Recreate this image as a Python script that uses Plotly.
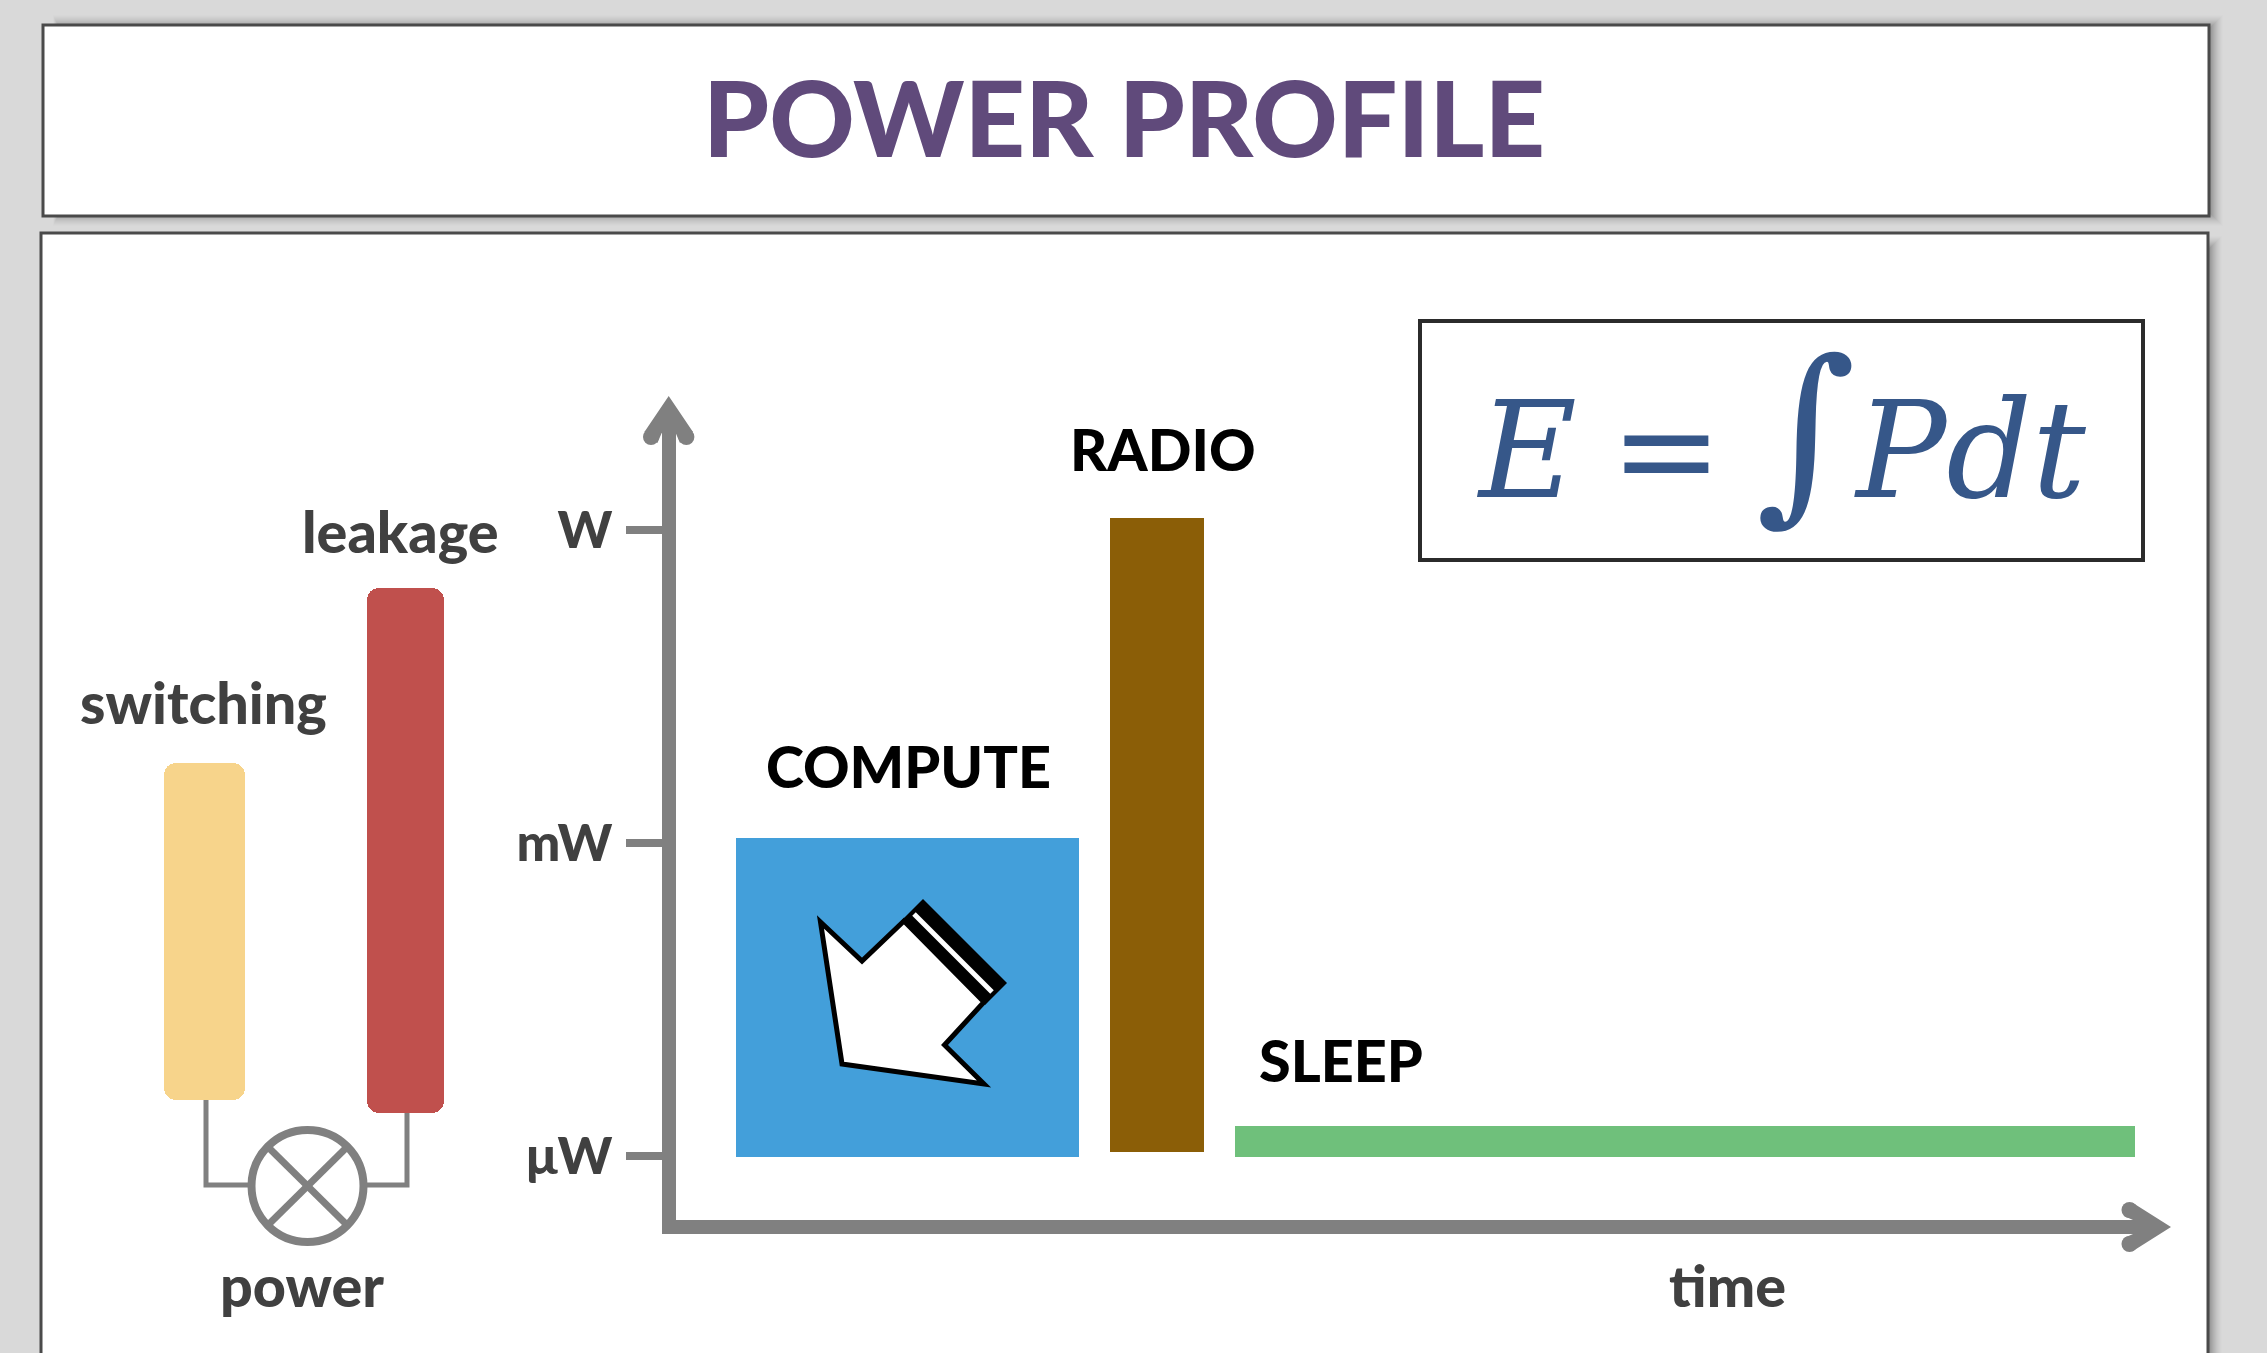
import plotly.graph_objects as go

W, H = 2267, 1353

# ---- data ----
phase_names = ["COMPUTE", "RADIO", "SLEEP"]
phase_start = [4.01, 29.03, 37.39]          # time, % of the axis
phase_end = [26.96, 35.32, 97.59]
phase_low = [-6.01, -5.96, -6.01]           # log10(power / W)
phase_high = [-2.95, 0.115, -5.71]
phase_colors = ["#439fda", "#8b5e07", "#6fc07b"]

source_names = ["switching", "leakage"]
source_low = [-5.46, -5.59]
source_high = [-2.23, -0.556]
source_colors = ["#f7d48b", "#c0504d"]

tick_values = [-6, -3, 0]
tick_labels = ["μW", "mW", "W"]

GREY = "#808080"
LABEL = "#404040"
FONT = "Lato"


def px(x):
    return x / W


def py(y):
    return 1 - y / H


def path(points, close=True):
    s = "M " + " L ".join(f"{px(x):.5f},{py(y):.5f}" for x, y in points)
    return s + (" Z" if close else "")


fig = go.Figure()

# main chart bars
fig.add_trace(go.Bar(
    x=[(a + b) / 2 for a, b in zip(phase_start, phase_end)],
    width=[b - a for a, b in zip(phase_start, phase_end)],
    base=phase_low,
    y=[h - l for h, l in zip(phase_high, phase_low)],
    marker=dict(color=phase_colors, line=dict(width=0)),
    name="phases", hoverinfo="skip", showlegend=False,
))

# rounded schematic bars on the same power axis
fig.add_trace(go.Bar(
    x=source_names, base=source_low,
    y=[h - l for h, l in zip(source_high, source_low)],
    width=[0.40, 0.385], xaxis="x2", yaxis="y",
    marker=dict(color=source_colors, line=dict(width=0), cornerradius=12),
    hoverinfo="skip", showlegend=False,
))

shapes = []


def rect(x0, y0, x1, y1, fill=None, line=None, lw=0, opacity=1, layer="below"):
    shapes.append(dict(type="rect", xref="paper", yref="paper",
                       x0=px(x0), x1=px(x1), y0=py(y0), y1=py(y1),
                       fillcolor=fill or "rgba(0,0,0,0)",
                       line=dict(color=line or "rgba(0,0,0,0)", width=lw),
                       opacity=opacity, layer=layer))


def poly(points, fill=None, line=None, lw=0, close=True, layer="above"):
    shapes.append(dict(type="path", xref="paper", yref="paper",
                       path=path(points, close),
                       fillcolor=fill or "rgba(0,0,0,0)",
                       line=dict(color=line or "rgba(0,0,0,0)", width=lw),
                       layer=layer))


def circle(cx, cy, r, fill=None, line=None, lw=0, layer="above"):
    shapes.append(dict(type="circle", xref="paper", yref="paper",
                       x0=px(cx - r), x1=px(cx + r), y0=py(cy - r), y1=py(cy + r),
                       fillcolor=fill or "rgba(0,0,0,0)",
                       line=dict(color=line or "rgba(0,0,0,0)", width=lw),
                       layer=layer))


# soft drop shadows
for i in range(14, 0, -1):
    alpha = 0.008 + 0.003 * (14 - i)
    rect(60 - i * 0.5, 29 - i, 2209 + i, 212 + i, fill="#000000", opacity=alpha)
    rect(60 - i * 0.5, 250 - i, 2208 + i, 1380, fill="#000000", opacity=alpha)

# frames
rect(43, 25, 2209, 216, fill="#ffffff", line="#4a4a4a", lw=3)
rect(41, 233, 2208, 1375, fill="#ffffff", line="#4a4a4a", lw=3)
rect(1420, 321, 2143, 560, fill="#ffffff", line="#2b2b2b", lw=4)

# axis arrow heads
poly([(668.7, 396), (693, 432), (680, 443), (675.7, 433), (661.7, 433), (657.4, 443), (644.4, 432)], fill=GREY)
circle(651, 437, 8, fill=GREY)
circle(686.4, 437, 8, fill=GREY)
poly([(2171, 1227), (2133, 1203), (2124, 1216), (2133, 1220), (2133, 1234), (2124, 1238), (2133, 1251)], fill=GREY)
circle(2129.5, 1210, 8, fill=GREY)
circle(2129.5, 1244, 8, fill=GREY)

# power-gating schematic
poly([(206, 1100), (206, 1185), (248, 1185)], line=GREY, lw=5, close=False)
poly([(407, 1113), (407, 1185), (367, 1185)], line=GREY, lw=5, close=False)
circle(307.5, 1186, 56, line=GREY, lw=8)
poly([(268, 1147), (347, 1225)], line=GREY, lw=7, close=False)
poly([(347, 1147), (268, 1225)], line=GREY, lw=7, close=False)

# hollow arrow on the blue bar
poly([(923, 899), (1007, 983), (985, 1005), (901, 921)], fill="#000000")
poly([(914, 914), (992, 992)], line="#ffffff", lw=5, close=False)
poly([(820.5, 922), (862, 961), (904, 921), (984, 1002), (944.5, 1045), (984, 1084), (842, 1064)],
     fill="#ffffff", line="#000000", lw=5)

annotations = []


def label(text, x, y, size=57.5, color=LABEL, weight=900, family=FONT):
    annotations.append(dict(
        text=text, xref="paper", yref="paper", x=px(x), y=py(y),
        xanchor="center", yanchor="middle", showarrow=False,
        font=dict(family=family, size=size, color=color, weight=weight),
    ))


label("POWER PROFILE", 1124, 116, size=105.5, color="#604a7b")
label("switching", 203, 702)
label("leakage", 400.5, 530)
label("COMPUTE", 908, 765, color="#000000")
label("RADIO", 1163, 449, color="#000000")
label("SLEEP", 1341, 1059, color="#000000")
label("power", 302, 1284)
label("time", 1727, 1284)
label('<i>E</i>\u2005=\u2005<span style="font-size:192px">∫</span><i>Pdt</i>', 1781, 430,
      size=134, color="#365789", weight=400, family="DejaVu Serif")

dom_left, dom_right, dom_top, dom_bottom = 676, 2140, 430, 1220

fig.update_layout(
    width=W, height=H, autosize=False,
    margin=dict(l=0, r=0, t=0, b=0, pad=0),
    paper_bgcolor="#d9d9d9", plot_bgcolor="rgba(0,0,0,0)",
    barmode="overlay", bargap=0, showlegend=False,
    shapes=shapes, annotations=annotations,
    xaxis=dict(domain=[px(dom_left), px(dom_right)], range=[0, 97.93],
               showline=True, linewidth=14, linecolor=GREY, showgrid=False,
               zeroline=False, ticks="", showticklabels=False, fixedrange=True),
    xaxis2=dict(domain=[px(104), px(506)], range=[-0.5, 1.5], type="category",
                categoryorder="array", categoryarray=source_names,
                anchor="y", visible=False, fixedrange=True),
    yaxis=dict(domain=[py(dom_bottom), py(dom_top)], range=[-6.613, 0.9587], anchor="x",
               showline=True, linewidth=14, linecolor=GREY, showgrid=False, zeroline=False,
               ticks="outside", ticklen=36, tickwidth=8, tickcolor=GREY, ticklabelstandoff=3,
               tickmode="array", tickvals=tick_values, ticktext=tick_labels,
               tickfont=dict(family=FONT, size=52, color=LABEL, weight=900), fixedrange=True),
)

fig.write_html("out.html", config={"displayModeBar": False},
               post_script="document.body.style.margin='0';document.body.style.overflow='hidden';")
